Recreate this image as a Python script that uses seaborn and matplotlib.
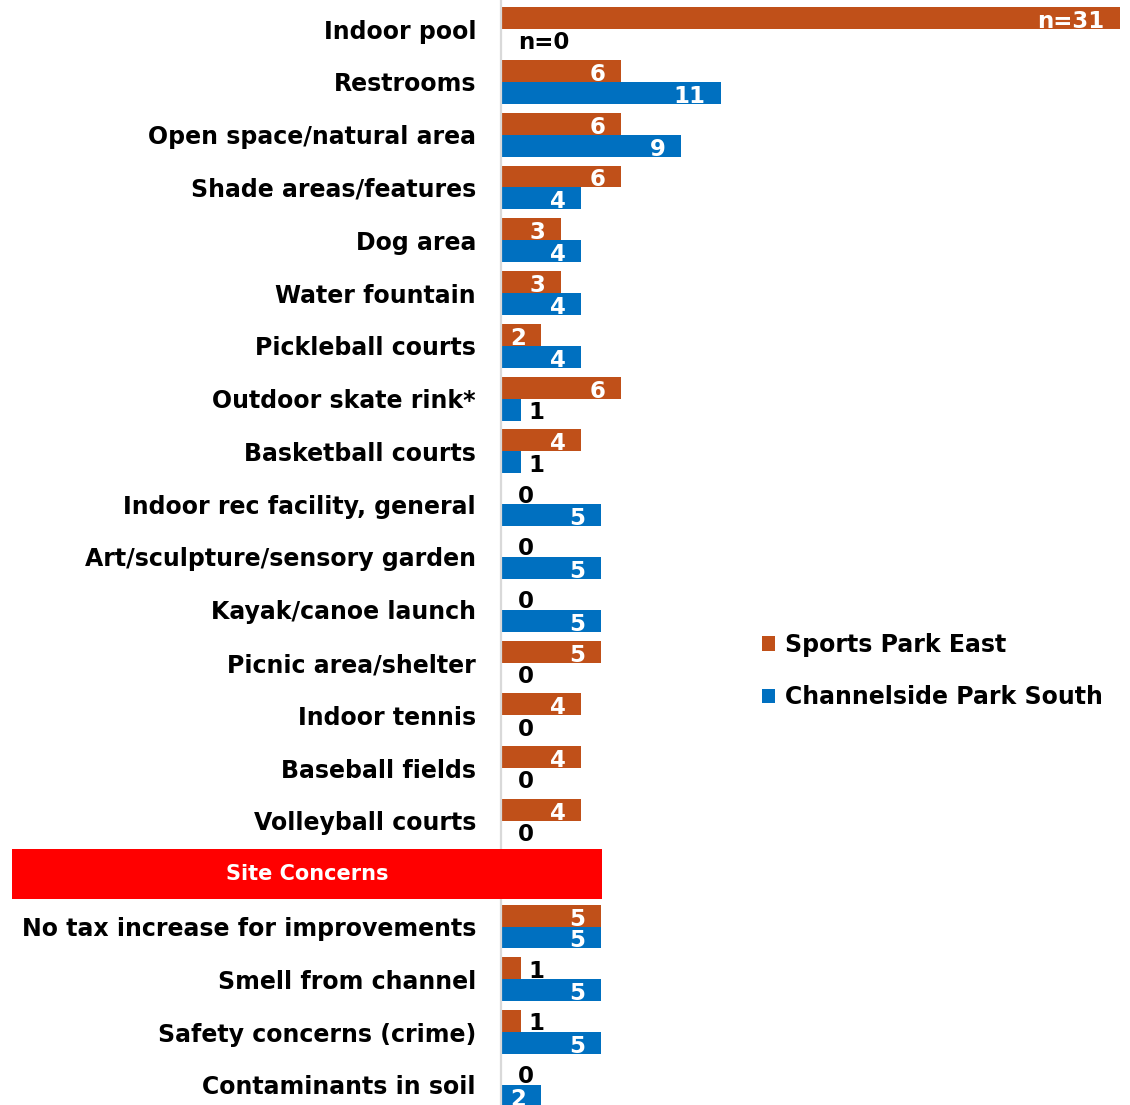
import matplotlib
matplotlib.use("Agg")
import matplotlib.pyplot as plt
import matplotlib.transforms as mtransforms
from matplotlib.patches import Rectangle
import seaborn as sns
import pandas as pd

categories = [
    "Indoor pool", "Restrooms", "Open space/natural area", "Shade areas/features",
    "Dog area", "Water fountain", "Pickleball courts", "Outdoor skate rink*",
    "Basketball courts", "Indoor rec facility, general", "Art/sculpture/sensory garden",
    "Kayak/canoe launch", "Picnic area/shelter", "Indoor tennis", "Baseball fields",
    "Volleyball courts", "Site Concerns", "No tax increase for improvements",
    "Smell from channel", "Safety concerns (crime)", "Contaminants in soil",
]
sports_park_east = [31, 6, 6, 6, 3, 3, 2, 6, 4, 0, 0, 0, 5, 4, 4, 4, None, 5, 1, 1, 0]
channelside_south = [0, 11, 9, 4, 4, 4, 4, 1, 1, 5, 5, 5, 0, 0, 0, 0, None, 5, 5, 5, 2]
series_names = ["Sports Park East", "Channelside Park South"]
special_labels = {(0, 0): "n=31", (1, 0): "n=0"}
section_header = "Site Concerns"

colors = ["#C05019", "#0070C0"]

rows = []
for i, c in enumerate(categories):
    for s, vals in zip(series_names, [sports_park_east, channelside_south]):
        v = vals[i]
        rows.append({"cat": c, "series": s, "val": 0 if v is None else v})
df = pd.DataFrame(rows)

sns.set_style("white")
plt.rcParams["font.family"] = ["DejaVu Sans"]
plt.rcParams["text.color"] = "black"
FS = 17
NFS = 16.5

fig = plt.figure(figsize=(11.3, 11.05), dpi=100)
ax = fig.add_axes([501 / 1130, 0.0, (1120 - 501) / 1130, 1.0])

sns.barplot(data=df, y="cat", x="val", hue="series", order=categories,
            hue_order=series_names, palette=colors, orient="h", width=0.83,
            gap=0, ax=ax, errorbar=None, saturation=1, linewidth=0)

ax.set_xlim(0, 31)
ax.set_ylim(20.38, -0.55)
ax.set_xlabel("")
ax.set_ylabel("")
ax.set_xticks([])
ax.set_yticks(range(len(categories)))
ax.set_yticklabels([("" if c == section_header else c) for c in categories],
                   fontsize=FS, fontweight="bold", color="black")
ax.tick_params(axis="y", length=0, pad=18)
for side in ["top", "right", "bottom"]:
    ax.spines[side].set_visible(False)
ax.spines["left"].set_color("#D9D9D9")
ax.spines["left"].set_linewidth(1.6)

# value labels
all_vals = [sports_park_east, channelside_south]
for si, cont in enumerate(ax.containers):
    for i, bar in enumerate(cont):
        v = all_vals[si][i]
        if v is None:
            continue
        txt = special_labels.get((si, i), str(v))
        yc = bar.get_y() + bar.get_height() / 2
        end = bar.get_x() + bar.get_width()
        if v >= 2:
            ax.annotate(txt, (end, yc), xytext=(-11, -2.5), textcoords="offset points",
                        ha="right", va="center", color="white", fontsize=NFS,
                        fontweight="bold")
        else:
            off = 12 if v == 0 else 5
            ax.annotate(txt, (end, yc), xytext=(off, -2), textcoords="offset points",
                        ha="left", va="center", color="black", fontsize=NFS,
                        fontweight="bold")

# section header band
idx = categories.index(section_header)
trans = mtransforms.blended_transform_factory(fig.transFigure, ax.transData)
ax.add_patch(Rectangle((12 / 1130, idx - 0.47), (602 - 12) / 1130, 0.94,
                       transform=trans, facecolor="#FF0000", edgecolor="none",
                       clip_on=False, zorder=5))
ax.text(307 / 1130, idx, section_header, transform=trans, ha="center", va="center",
        color="white", fontsize=15, fontweight="bold", zorder=6)

handles, labels = ax.get_legend_handles_labels()
ax.legend(handles, labels, loc="center left", bbox_to_anchor=(741 / 1130, 1 - 671 / 1105),
          bbox_transform=fig.transFigure, frameon=False,
          prop={"weight": "bold", "size": FS}, handlelength=0.55, handleheight=0.55,
          handletextpad=0.42, labelspacing=1.2)

fig.savefig("out.png", dpi=100)
